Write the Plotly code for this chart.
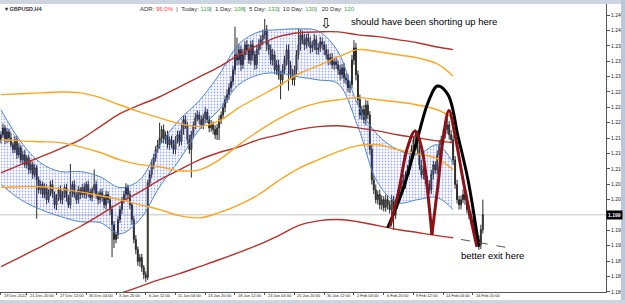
import plotly.graph_objects as go

# ---------------- price data (GBPUSD H4) ----------------
FIRST_OPEN = 1.2172
CLOSE = [
    1.2183, 1.2199, 1.2172, 1.2190, 1.2176, 1.2160, 1.2149, 1.2172, 1.2137, 1.2153,
    1.2125, 1.2137, 1.2114, 1.2130, 1.2102, 1.2114, 1.2091, 1.2107, 1.2079, 1.2056,
    1.2068, 1.2045, 1.2061, 1.2033, 1.2051, 1.2068, 1.2045, 1.2021, 1.2038, 1.2056,
    1.2033, 1.2045, 1.2061, 1.2038, 1.2021, 1.2051, 1.2068, 1.2045, 1.2033, 1.2056,
    1.2045, 1.2061, 1.2045, 1.2068, 1.2051, 1.2038, 1.2056, 1.2068, 1.2045, 1.2033,
    1.2049, 1.2038, 1.2021, 1.2045, 1.2033, 1.2010, 1.1975, 1.1941, 1.1952, 1.1987,
    1.2010, 1.2033, 1.2045, 1.2061, 1.2045, 1.2021, 1.1987, 1.1941, 1.1918, 1.1890,
    1.1899, 1.1876, 1.1860, 1.1853, 1.2072, 1.2091, 1.2114, 1.2130, 1.2149, 1.2160,
    1.2176, 1.2195, 1.2172, 1.2183, 1.2160, 1.2172, 1.2160, 1.2149, 1.2172, 1.2183,
    1.2167, 1.2195, 1.2218, 1.2206, 1.2172, 1.2149, 1.2183, 1.2206, 1.2222, 1.2229,
    1.2218, 1.2206, 1.2222, 1.2236, 1.2218, 1.2199, 1.2206, 1.2195, 1.2183, 1.2199,
    1.2218, 1.2229, 1.2246, 1.2264, 1.2276, 1.2292, 1.2306, 1.2333, 1.2368, 1.2356,
    1.2380, 1.2345, 1.2368, 1.2391, 1.2380, 1.2356, 1.2391, 1.2368, 1.2345, 1.2380,
    1.2391, 1.2403, 1.2414, 1.2426, 1.2391, 1.2380, 1.2356, 1.2368, 1.2333, 1.2345,
    1.2322, 1.2310, 1.2333, 1.2356, 1.2380, 1.2345, 1.2322, 1.2310, 1.2333, 1.2368,
    1.2391, 1.2414, 1.2403, 1.2391, 1.2407, 1.2398, 1.2384, 1.2391, 1.2403, 1.2380,
    1.2384, 1.2398, 1.2391, 1.2380, 1.2368, 1.2356, 1.2361, 1.2345, 1.2352, 1.2345,
    1.2333, 1.2322, 1.2338, 1.2315, 1.2310, 1.2292, 1.2299, 1.2356, 1.2384, 1.2322,
    1.2264, 1.2229, 1.2241, 1.2218, 1.2252, 1.2229, 1.2149, 1.2079, 1.2056, 1.2033,
    1.2045, 1.2021, 1.2033, 1.2015, 1.2033, 1.2021, 1.2010, 1.2033, 1.1998, 1.2021,
    1.2045, 1.2056, 1.2079, 1.2068, 1.2091, 1.2102, 1.2125, 1.2149, 1.2172, 1.2183,
    1.2149, 1.2114, 1.2091, 1.2102, 1.2079, 1.2068, 1.2056, 1.2091, 1.2114, 1.2102,
    1.2137, 1.2160, 1.2172, 1.2183, 1.2195, 1.2206, 1.2183, 1.2172, 1.2125, 1.2068,
    1.2033, 1.2021, 1.2033, 1.2045, 1.2033, 1.2010, 1.1998, 1.1987, 1.1968, 1.1952,
    1.1941, 1.1929, 1.1964, 1.1998,
]
# wick lengths in pips above / below the candle body
WICK_UP = [
    8, 10, 6, 9, 7, 12, 6, 9, 8, 10,
    7, 9, 11, 6, 8, 10, 7, 9, 6, 8,
    9, 7, 10, 8, 6, 9, 11, 7, 8, 6,
    10, 8, 7, 9, 6, 65, 8, 10, 7, 9,
    6, 8, 10, 7, 9, 8, 6, 35, 9, 7,
    8, 10, 6, 9, 7, 8, 10, 9, 7, 8,
    9, 6, 8, 10, 7, 9, 6, 8, 10, 7,
    8, 9, 6, 7, 7, 10, 12, 9, 8, 11,
    35, 9, 12, 8, 10, 7, 9, 11, 8, 10,
    9, 12, 8, 10, 7, 11, 9, 8, 12, 10,
    8, 10, 9, 12, 7, 9, 11, 8, 10, 9,
    10, 8, 11, 9, 12, 10, 13, 9, 65, 40,
    12, 10, 14, 9, 11, 13, 10, 12, 9, 11,
    13, 10, 12, 25, 11, 9, 12, 14, 10, 11,
    12, 9, 13, 10, 11, 12, 9, 13, 10, 11,
    38, 12, 10, 13, 9, 11, 12, 10, 13, 9,
    11, 12, 10, 9, 12, 13, 10, 11, 9, 12,
    10, 12, 9, 11, 10, 13, 9, 12, 18, 11,
    10, 12, 9, 11, 12, 10, 9, 11, 10, 12,
    9, 11, 10, 8, 12, 9, 10, 11, 9, 10,
    11, 9, 10, 12, 8, 11, 9, 10, 8, 12,
    9, 10, 11, 8, 12, 9, 10, 11, 9, 8,
    10, 11, 9, 12, 10, 16, 9, 11, 10, 9,
    11, 9, 10, 12, 8, 11, 9, 10, 8, 9,
    10, 9, 11, 35,
]
WICK_DN = [
    9, 7, 11, 8, 10, 6, 9, 8, 10, 7,
    8, 10, 7, 9, 11, 8, 10, 7, 90, 9,
    10, 8, 9, 11, 7, 10, 8, 9, 12, 8,
    9, 11, 8, 10, 7, 9, 12, 8, 10, 9,
    11, 8, 9, 10, 12, 7, 9, 8, 10, 11,
    9, 10, 8, 11, 9, 12, 75, 20, 9, 10,
    8, 10, 9, 11, 8, 10, 12, 9, 11, 10,
    12, 10, 11, 10, 6, 9, 8, 10, 9, 8,
    9, 11, 8, 10, 9, 12, 8, 10, 11, 9,
    10, 8, 12, 9, 11, 10, 65, 9, 10, 8,
    11, 9, 10, 12, 8, 10, 9, 11, 10, 12,
    28, 10, 9, 11, 8, 12, 10, 9, 11, 13,
    11, 14, 10, 12, 13, 9, 11, 14, 12, 10,
    12, 11, 13, 10, 14, 12, 11, 13, 10, 12,
    11, 45, 12, 10, 13, 60, 11, 12, 14, 10,
    11, 13, 10, 12, 9, 11, 13, 10, 12, 11,
    12, 10, 11, 13, 10, 12, 11, 9, 12, 10,
    11, 13, 10, 12, 11, 10, 12, 9, 11, 13,
    12, 10, 11, 9, 13, 10, 12, 11, 10, 9,
    11, 10, 12, 9, 10, 11, 9, 12, 35, 10,
    9, 11, 10, 12, 9, 10, 11, 9, 10, 8,
    10, 12, 9, 11, 10, 12, 9, 10, 11, 9,
    11, 9, 10, 12, 9, 10, 11, 9, 12, 10,
    9, 11, 10, 8, 12, 9, 10, 11, 9, 10,
    11, 12, 10, 9,
]

# ---------------- indicator readings (sampled every 10 bars) ----------------
IND_BARS = [0, 10, 20, 30, 40, 50, 60, 70, 80, 90, 100, 110, 120, 130, 140, 150,
            160, 170, 180, 190, 200, 210, 220, 228]
BAND_UP = [1.2241, 1.2167, 1.2118, 1.2098, 1.2098, 1.2086, 1.2061, 1.2079, 1.2158, 1.2218,
           1.2262, 1.2322, 1.2393, 1.2421, 1.2426, 1.2428, 1.2423, 1.2375, 1.2252, 1.2183,
           1.2149, 1.2137, 1.2160, 1.2118]
BAND_LO = [1.2068, 1.2033, 1.2010, 1.1994, 1.1982, 1.1980, 1.1954, 1.1987, 1.2063, 1.2125,
           1.2195, 1.2241, 1.2299, 1.2322, 1.2326, 1.2317, 1.2310, 1.2301, 1.2202, 1.2072,
           1.2026, 1.2033, 1.2038, 1.2010]
RED_UP = [1.2095, 1.2114, 1.2132, 1.2151, 1.2172, 1.2202, 1.2232, 1.2252, 1.2271, 1.2294,
          1.2317, 1.2340, 1.2368, 1.2391, 1.2410, 1.2419, 1.2421, 1.2421, 1.2414, 1.2410,
          1.2403, 1.2396, 1.2386, 1.2380]
RED_MID = [1.1878, 1.1901, 1.1924, 1.1948, 1.1971, 1.1998, 1.2026, 1.2051, 1.2079, 1.2102,
           1.2125, 1.2142, 1.2155, 1.2172, 1.2183, 1.2195, 1.2202, 1.2204, 1.2199, 1.2192,
           1.2183, 1.2176, 1.2169, 1.2165]
RED_LO = [1.1663, 1.1698, 1.1728, 1.1756, 1.1779, 1.1800, 1.1816, 1.1832, 1.1848, 1.1862,
          1.1878, 1.1894, 1.1911, 1.1929, 1.1950, 1.1973, 1.1984, 1.1987, 1.1982, 1.1973,
          1.1964, 1.1957, 1.1950, 1.1945]
ORANGE_UP = [1.2276, 1.2278, 1.2280, 1.2282, 1.2280, 1.2269, 1.2252, 1.2236, 1.2222, 1.2209,
             1.2202, 1.2215, 1.2246, 1.2271, 1.2296, 1.2324, 1.2343, 1.2363, 1.2380, 1.2375,
             1.2368, 1.2361, 1.2347, 1.2319]
ORANGE_MID = [1.2172, 1.2169, 1.2167, 1.2165, 1.2155, 1.2142, 1.2125, 1.2114, 1.2109, 1.2100,
              1.2102, 1.2125, 1.2160, 1.2192, 1.2220, 1.2243, 1.2257, 1.2264, 1.2269, 1.2264,
              1.2259, 1.2252, 1.2241, 1.2222]
ORANGE_LO = [1.2061, 1.2063, 1.2063, 1.2058, 1.2051, 1.2042, 1.2033, 1.2021, 1.2010, 1.1996,
             1.1991, 1.2003, 1.2021, 1.2045, 1.2077, 1.2105, 1.2125, 1.2144, 1.2158, 1.2160,
             1.2149, 1.2139, 1.2128, 1.2102]

# ---------------- hand-drawn objects ----------------
BIG_ARC_BARS = [195.0, 203.2, 210.3, 215.3, 220.1, 225.4, 230.5, 235.5, 241.0]
BIG_ARC_PRICE = [1.1968, 1.2063, 1.2179, 1.2257, 1.2296, 1.2276, 1.2179, 1.2079, 1.1924]
LEFT_ARCH_BARS = [196.2, 200.7, 204.7, 208.8, 212.3, 215.3, 217.3]
LEFT_ARCH_PRICE = [1.1971, 1.2056, 1.2149, 1.2192, 1.2149, 1.2045, 1.1952]
RIGHT_ARCH_BARS = [217.3, 220.4, 222.9, 225.9, 228.9, 233.0, 237.0, 240.0]
RIGHT_ARCH_PRICE = [1.1952, 1.2068, 1.2172, 1.2239, 1.2183, 1.2079, 1.1987, 1.1924]
EXIT_BARS = [232.0, 258.2]
EXIT_PRICE = [1.1941, 1.1920]

# ---------------- axes labels ----------------
X_TICK_BARS = [0, 13, 28, 43, 58, 73, 88, 103, 118, 133, 148, 163, 178, 193, 208, 223, 238]
X_TICK_LABELS = ["19 Dec 2022", "21 Dec 20:00", "27 Dec 12:00", "30 Dec 04:00", "3 Jan 20:00",
                 "6 Jan 12:00", "11 Jan 04:00", "13 Jan 20:00", "18 Jan 12:00", "23 Jan 04:00",
                 "25 Jan 20:00", "30 Jan 12:00", "2 Feb 04:00", "6 Feb 20:00", "9 Feb 12:00",
                 "14 Feb 04:00", "16 Feb 20:00"]
Y_TICK_VALUES = [1.18200, 1.18556, 1.18911, 1.19267, 1.19622, 1.19978, 1.20333, 1.20689,
                 1.21044, 1.21400, 1.21756, 1.22111, 1.22467, 1.22822, 1.23178, 1.23533,
                 1.23889, 1.24244, 1.24600]
Y_TICK_LABELS = ["1.182", "1.186", "1.189", "1.192", "1.196", "", "1.203", "1.207",
                 "1.210", "1.214", "1.217", "1.221", "1.224", "1.228", "1.231", "1.235",
                 "1.238", "1.242", "1.246"]

N = len(CLOSE)
BARS = list(range(N))
OPEN = [FIRST_OPEN] + CLOSE[:-1]
HIGH = [max(o, c) + u / 10000 for o, c, u in zip(OPEN, CLOSE, WICK_UP)]
LOW = [min(o, c) - d / 10000 for o, c, d in zip(OPEN, CLOSE, WICK_DN)]
LAST = CLOSE[-1]

BLUE = "#4f86c6"
RED = "#b8322c"
ORANGE = "#ffa51e"
FONT = "Liberation Sans"

fig = go.Figure()

# dotted band
fig.add_trace(go.Scatter(x=IND_BARS, y=BAND_LO, mode="lines",
                         line=dict(color=BLUE, width=1, shape="spline"), hoverinfo="skip"))
fig.add_trace(go.Scatter(x=IND_BARS, y=BAND_UP, mode="lines",
                         line=dict(color=BLUE, width=1, shape="spline"), fill="tonexty",
                         fillcolor="rgba(0,0,0,0)",
                         fillpattern=dict(shape=".", fgcolor="#4058ff", bgcolor="rgba(255,255,255,0)",
                                          size=3, solidity=0.27),
                         hoverinfo="skip"))

for series, col in [(RED_UP, RED), (RED_MID, RED), (RED_LO, RED),
                    (ORANGE_UP, ORANGE), (ORANGE_MID, ORANGE), (ORANGE_LO, ORANGE)]:
    fig.add_trace(go.Scatter(x=IND_BARS, y=series, mode="lines",
                             line=dict(color=col, width=1.4, shape="spline"), hoverinfo="skip"))

fig.add_trace(go.Candlestick(
    x=BARS, open=OPEN, high=HIGH, low=LOW, close=CLOSE,
    increasing=dict(line=dict(color="#2a2a2a", width=1), fillcolor="#c08545"),
    decreasing=dict(line=dict(color="#2a2a2a", width=1), fillcolor="#2a2a2a"),
    whiskerwidth=0, hoverinfo="skip"))

fig.add_trace(go.Scatter(x=BIG_ARC_BARS, y=BIG_ARC_PRICE, mode="lines",
                         line=dict(color="black", width=3, shape="spline"), hoverinfo="skip"))
fig.add_trace(go.Scatter(x=LEFT_ARCH_BARS, y=LEFT_ARCH_PRICE, mode="lines",
                         line=dict(color="#8b1116", width=3, shape="spline"), hoverinfo="skip"))
fig.add_trace(go.Scatter(x=RIGHT_ARCH_BARS, y=RIGHT_ARCH_PRICE, mode="lines",
                         line=dict(color="#8b1116", width=3, shape="spline"), hoverinfo="skip"))
fig.add_trace(go.Scatter(x=EXIT_BARS, y=EXIT_PRICE, mode="lines",
                         line=dict(color="#555555", width=1, dash="dash"), hoverinfo="skip"))

# bid line
fig.add_shape(type="line", xref="paper", x0=0, x1=1, yref="y", y0=LAST, y1=LAST,
              line=dict(color="#c4c4c4", width=1), layer="below")

# window frame bands
BAND_COL = "#cdd5e1"
fig.add_shape(type="rect", xref="paper", yref="paper", x0=-0.01, x1=1.04, y0=1.0, y1=1.02,
              fillcolor=BAND_COL, line=dict(width=0), layer="above")
fig.add_shape(type="rect", xref="paper", yref="paper", x0=621 / 606, x1=1.04, y0=-0.05, y1=1.02,
              fillcolor="#bcc8da", line=dict(width=0), layer="above")
fig.add_shape(type="rect", xref="paper", yref="paper", x0=-0.01, x1=1.04, y0=-0.05, y1=-(300 - 292) / 288,
              fillcolor=BAND_COL, line=dict(width=0), layer="above")


def py(pix):
    return 1 - (pix - 4) / 288


G = "<span style='color:#3aa83a'>"
R = "<span style='color:#ff3b3b'>"
E = "</span>"
adr = ("ADR: " + R + "95.0%" + E + "  |  Today: " + G + "119" + E + "|  1 Day: " + G + "108" + E +
       "|  5 Day: " + G + "133" + E + "|  10 Day: " + G + "130" + E + "|   20 Day: " + G + "120" + E)

ann = []
ann.append(dict(xref="paper", yref="paper", x=0.004, y=py(9), xanchor="left", yanchor="middle",
                text="<b>▾ GBPUSD,H4</b>", showarrow=False,
                font=dict(size=5.5, family=FONT, color="#333")))
ann.append(dict(xref="paper", yref="paper", x=138 / 606, y=py(9), xanchor="left", yanchor="middle",
                text=adr, showarrow=False, font=dict(size=6, family=FONT, color="#333")))
ann.append(dict(xref="x", yref="y", x=175.5, y=1.2444, xanchor="left", yanchor="middle",
                text="should have been shorting up here", showarrow=False,
                font=dict(size=9.5, family=FONT, color="black")))
ann.append(dict(xref="x", yref="y", x=164, y=1.2441, xanchor="center", yanchor="middle",
                text="⇩", showarrow=False, font=dict(size=14, family="DejaVu Sans", color="black")))
ann.append(dict(xref="x", yref="y", x=230.9, y=1.1904, xanchor="left", yanchor="middle",
                text="better exit here", showarrow=False,
                font=dict(size=9.5, family=FONT, color="black")))
ann.append(dict(xref="paper", yref="y", x=1.0, y=LAST, xanchor="left", yanchor="middle",
                text="<b>1.199</b>", showarrow=False, bgcolor="black", borderpad=1,
                font=dict(size=5, family=FONT, color="white")))
# time-axis labels, left-aligned at their tick marks just below the axis
for tb, tl in zip(X_TICK_BARS, X_TICK_LABELS):
    ann.append(dict(xref="x", yref="paper", x=tb, y=py(295.8), xanchor="left", yanchor="middle",
                    xshift=1, text=tl, showarrow=False,
                    font=dict(size=4, family=FONT, color="#222")))

fig.update_layout(
    width=625, height=303, margin=dict(l=0, r=19, t=4, b=11),
    paper_bgcolor="white", plot_bgcolor="white", showlegend=False,
    annotations=ann,
    xaxis=dict(range=[-0.5, 305.1], rangeslider=dict(visible=False), showgrid=False,
               zeroline=False, showline=True, linecolor="#555", linewidth=1,
               ticks="outside", ticklen=2, tickcolor="#555", tickvals=X_TICK_BARS,
               showticklabels=False, automargin=False),
    yaxis=dict(side="right", range=[1.18195, 1.24855], showgrid=False, zeroline=False,
               showline=True, linecolor="#555", linewidth=1, ticks="outside", ticklen=3,
               tickcolor="#555", tickvals=Y_TICK_VALUES, ticktext=Y_TICK_LABELS,
               tickfont=dict(size=5, family=FONT, color="#222"), automargin=False),
)

fig.write_html("out.html")
